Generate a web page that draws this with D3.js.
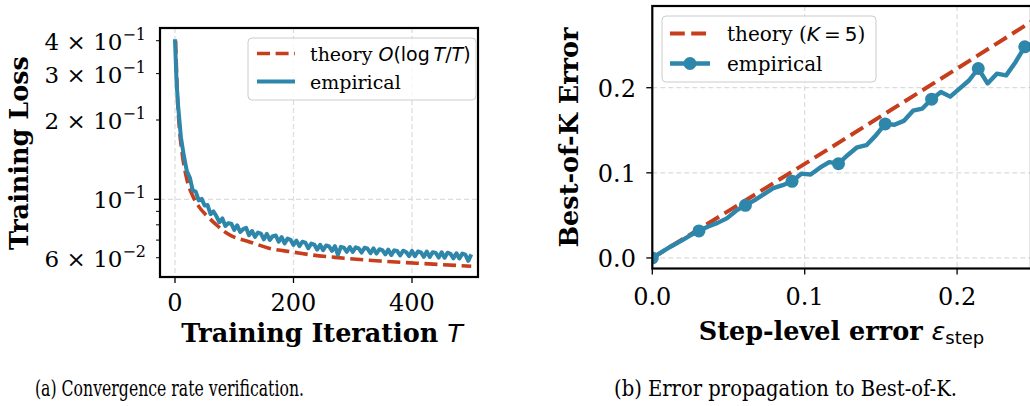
<!DOCTYPE html>
<html>
<head>
<meta charset="utf-8">
<style>
  html, body { margin: 0; padding: 0; background: #fff; }
  svg { display: block; }
  text { font-family: "DejaVu Serif", serif; fill: #000; }
  .math { font-family: "DejaVu Sans", sans-serif; }
</style>
</head>
<body>
<svg id="fig" width="1030" height="406"></svg>
<script src="https://cdn.jsdelivr.net/npm/d3@7/dist/d3.min.js"></script>
<script>
// (a) training loss
const lossT = [0, 1, 2, 3, 4, 5, 10, 15, 20, 25, 30, 35, 40, 45, 50, 55, 60, 65, 70, 75, 80, 85, 90, 95,
  100, 105, 110, 115, 120, 125, 130, 135, 140, 145, 150, 155, 160, 165, 170, 175, 180, 185, 190, 195,
  200, 205, 210, 215, 220, 225, 230, 235, 240, 245, 250, 255, 260, 265, 270, 275, 280, 285, 290, 295,
  300, 305, 310, 315, 320, 325, 330, 335, 340, 345, 350, 355, 360, 365, 370, 375, 380, 385, 390, 395,
  400, 405, 410, 415, 420, 425, 430, 435, 440, 445, 450, 455, 460, 465, 470, 475, 480, 485, 490, 495, 500];
const lossEmpirical = [0.405, 0.352, 0.305, 0.268, 0.252, 0.230, 0.172, 0.146, 0.128, 0.121, 0.108, 0.107, 0.099, 0.1003,
  0.0948, 0.0951, 0.0878, 0.0899, 0.0862, 0.0818, 0.0846, 0.0792, 0.0812, 0.0808,
  0.0765, 0.0796, 0.0752, 0.0770, 0.0779, 0.0731, 0.0758, 0.0720, 0.0748, 0.0741, 0.0705, 0.0739, 0.0701, 0.0725, 0.0729, 0.0690, 0.0718, 0.0680, 0.0709, 0.0702,
  0.0671, 0.0697, 0.0664, 0.0690, 0.0685, 0.0652, 0.0679, 0.0673, 0.0644, 0.0672, 0.0641, 0.0668, 0.0662, 0.0637, 0.0664, 0.0616, 0.0660, 0.0655, 0.0632, 0.0659,
  0.0631, 0.0657, 0.0651, 0.0628, 0.0655, 0.0649, 0.0624, 0.0651, 0.0622, 0.0646, 0.0641, 0.0618, 0.0644, 0.0614, 0.0640, 0.0636, 0.0612, 0.0638, 0.0631, 0.0609,
  0.0637, 0.0608, 0.0634, 0.0629, 0.0605, 0.0633, 0.0604, 0.0630, 0.0626, 0.0601, 0.0629, 0.0600, 0.0627, 0.0621, 0.0597, 0.0624, 0.0596, 0.0622, 0.0616, 0.0584, 0.0618];
const theoryT = [1, 3, 5, 8, 12, 20, 30, 40, 53, 70, 87, 100, 121, 160, 200, 233, 270, 346, 408, 500];
const theoryLoss = [0.400, 0.290, 0.225, 0.180, 0.150, 0.119, 0.103, 0.094, 0.087, 0.080, 0.0745, 0.0718, 0.0695,
  0.0651, 0.0630, 0.0614, 0.0602, 0.0583, 0.0572, 0.0557];
const lossXTicks = [0, 200, 400];
const lossYTicks = [
  { v: 0.4, m: "4 × 10", e: "−1" },
  { v: 0.3, m: "3 × 10", e: "−1" },
  { v: 0.2, m: "2 × 10", e: "−1" },
  { v: 0.1, m: "10", e: "−1" },
  { v: 0.06, m: "6 × 10", e: "−2" }
];
const lossMinorTicks = [0.07, 0.08, 0.09];

// (b) best-of-K error
const epsStep = [0, 0.0061, 0.0122, 0.0183, 0.0244, 0.0306, 0.0367, 0.0428, 0.0489, 0.0550, 0.0611,
  0.0672, 0.0733, 0.0794, 0.0856, 0.0917, 0.0978, 0.1039, 0.1100, 0.1161, 0.1222,
  0.1283, 0.1344, 0.1405, 0.1467, 0.1528, 0.1589, 0.1650, 0.1711, 0.1772, 0.1833,
  0.1894, 0.1955, 0.2016, 0.2078, 0.2139, 0.2200, 0.2261, 0.2322, 0.2383, 0.2444, 0.2505];
const bestKEmpirical = [0, 0.0068, 0.0135, 0.0195, 0.026, 0.0318, 0.037, 0.0412, 0.0465, 0.0555, 0.0618,
  0.068, 0.075, 0.082, 0.0855, 0.090, 0.099, 0.098, 0.106, 0.1125, 0.1108,
  0.121, 0.130, 0.1325, 0.144, 0.1575, 0.1565, 0.161, 0.173, 0.1755, 0.1865,
  0.195, 0.1895, 0.199, 0.2085, 0.2226, 0.205, 0.2165, 0.2145, 0.230, 0.248, 0.252];
const epsTheory = [0, 0.1, 0.2, 0.25];
const bestKTheory = [0, 0.1105, 0.2225, 0.279];
const errXTicks = [0, 0.1, 0.2];
const errYTicks = [0, 0.1, 0.2];

const RED = "#C73E1D", BLUE = "#2E86AB", GRID = "#dcdcdc";

const svg = d3.select("#fig");

function grid(g, x0, x1, y0, y1, xs, ys) {
  xs.forEach(x => g.append("line").attr("x1", x).attr("x2", x).attr("y1", y0).attr("y2", y1));
  ys.forEach(y => g.append("line").attr("x1", x0).attr("x2", x1).attr("y1", y).attr("y2", y));
  g.selectAll("line").attr("stroke", GRID).attr("stroke-width", 1.2).attr("stroke-dasharray", "5,3");
}

function frame(g, x0, x1, y0, y1) {
  g.append("rect").attr("x", x0).attr("y", y0).attr("width", x1 - x0).attr("height", y1 - y0)
    .attr("fill", "none").attr("stroke", "#000").attr("stroke-width", 2.2);
}

// ---------- panel (a) ----------
const ax = { l: 160, r: 478, t: 28, b: 277 };
const xA = d3.scaleLinear().domain([-25.3, 511.4]).range([ax.l, ax.r]);
const yA = d3.scaleLog().domain([0.0507, 0.447]).range([ax.b, ax.t]);

const gA = svg.append("g");
svg.append("clipPath").attr("id", "clipA").append("rect")
  .attr("x", ax.l).attr("y", ax.t).attr("width", ax.r - ax.l).attr("height", ax.b - ax.t);

grid(gA.append("g"), ax.l, ax.r, ax.t, ax.b, lossXTicks.map(xA), [yA(0.1)]);

const plotA = gA.append("g").attr("clip-path", "url(#clipA)");
plotA.append("path")
  .attr("d", d3.line().x(d => xA(d[0])).y(d => yA(d[1])).curve(d3.curveMonotoneX)(theoryT.map((t, i) => [t, theoryLoss[i]])))
  .attr("fill", "none").attr("stroke", RED).attr("stroke-width", 3.6).attr("stroke-dasharray", "13,5.6");
plotA.append("path")
  .attr("d", d3.line().x(d => xA(d[0])).y(d => yA(d[1]))(lossT.map((t, i) => [t, lossEmpirical[i]])))
  .attr("fill", "none").attr("stroke", BLUE).attr("stroke-width", 4).attr("stroke-linejoin", "round");

frame(gA, ax.l, ax.r, ax.t, ax.b);

// x ticks
lossXTicks.forEach(t => {
  gA.append("line").attr("x1", xA(t)).attr("x2", xA(t)).attr("y1", ax.b).attr("y2", ax.b + 6)
    .attr("stroke", "#000").attr("stroke-width", 1.3);
  gA.append("text").attr("x", xA(t)).attr("y", ax.b + 34).attr("text-anchor", "middle")
    .attr("font-size", 24).text(t);
});
// y ticks
lossYTicks.forEach(d => {
  const y = yA(d.v);
  const major = d.v === 0.1;
  gA.append("line").attr("x1", ax.l).attr("x2", ax.l - (major ? 6 : 4)).attr("y1", y).attr("y2", y)
    .attr("stroke", "#000").attr("stroke-width", major ? 1.3 : 1);
  const t = gA.append("text").attr("x", 146).attr("y", y + 9).attr("text-anchor", "end").attr("font-size", 23);
  t.append("tspan").text(d.m);
  t.append("tspan").attr("font-size", 16).attr("dy", -10).text(d.e);
});
lossMinorTicks.forEach(v => {
  gA.append("line").attr("x1", ax.l).attr("x2", ax.l - 4).attr("y1", yA(v)).attr("y2", yA(v))
    .attr("stroke", "#000").attr("stroke-width", 1);
});

// axis labels
const xlA = gA.append("text").attr("x", 322).attr("y", 342).attr("text-anchor", "middle")
  .attr("font-size", 25.5).attr("font-weight", "bold");
xlA.append("tspan").text("Training Iteration ");
xlA.append("tspan").attr("class", "math").attr("font-style", "italic").attr("font-weight", "normal").text("T");
gA.append("text").attr("transform", "translate(28,153) rotate(-90)").attr("text-anchor", "middle")
  .attr("font-size", 25.5).attr("font-weight", "bold").text("Training Loss");

// legend
const lgA = gA.append("g");
lgA.append("rect").attr("x", 248).attr("y", 38).attr("width", 228).attr("height", 62).attr("rx", 4)
  .attr("fill", "#fff").attr("fill-opacity", 0.8).attr("stroke", "#cccccc").attr("stroke-width", 1);
lgA.append("line").attr("x1", 257).attr("x2", 295).attr("y1", 53.5).attr("y2", 53.5)
  .attr("stroke", RED).attr("stroke-width", 3.6).attr("stroke-dasharray", "13,5.6");
lgA.append("line").attr("x1", 257).attr("x2", 295).attr("y1", 81.5).attr("y2", 81.5)
  .attr("stroke", BLUE).attr("stroke-width", 4);
const la1 = lgA.append("text").attr("x", 310).attr("y", 60.5).attr("font-size", 19);
la1.append("tspan").text("theory ");
la1.append("tspan").attr("class", "math").attr("font-style", "italic").text("O");
la1.append("tspan").attr("class", "math").text("(log\u2009");
la1.append("tspan").attr("class", "math").attr("font-style", "italic").text("T");
la1.append("tspan").attr("class", "math").text("/");
la1.append("tspan").attr("class", "math").attr("font-style", "italic").text("T");
la1.append("tspan").attr("class", "math").text(")");
lgA.append("text").attr("x", 310).attr("y", 88.5).attr("font-size", 19).text("empirical");

// ---------- panel (b) ----------
const bx = { l: 652.3, r: 1031, t: 6, b: 268.5 };
const xB = d3.scaleLinear().domain([0, 0.2485]).range([bx.l, bx.r]);
const yB = d3.scaleLinear().domain([-0.0124, 0.296]).range([bx.b, bx.t]);

const gB = svg.append("g");
svg.append("clipPath").attr("id", "clipB").append("rect")
  .attr("x", bx.l).attr("y", bx.t).attr("width", bx.r - bx.l).attr("height", bx.b - bx.t);

grid(gB.append("g"), bx.l, bx.r, bx.t, bx.b, errXTicks.slice(1).map(xB), errYTicks.map(yB));

const plotB = gB.append("g").attr("clip-path", "url(#clipB)");
plotB.append("path")
  .attr("d", d3.line().x(d => xB(d[0])).y(d => yB(d[1]))(epsTheory.map((e, i) => [e, bestKTheory[i]])))
  .attr("fill", "none").attr("stroke", RED).attr("stroke-width", 4).attr("stroke-dasharray", "14.8,6.4");
const empB = epsStep.map((e, i) => [e, bestKEmpirical[i]]);
plotB.append("path")
  .attr("d", d3.line().x(d => xB(d[0])).y(d => yB(d[1]))(empB))
  .attr("fill", "none").attr("stroke", BLUE).attr("stroke-width", 4.4).attr("stroke-linejoin", "round");
plotB.selectAll("circle").data(empB.filter((d, i) => i % 5 === 0)).join("circle")
  .attr("cx", d => xB(d[0])).attr("cy", d => yB(d[1])).attr("r", 6.5).attr("fill", BLUE);

frame(gB, bx.l, bx.r, bx.t, bx.b);

errXTicks.forEach(t => {
  gB.append("line").attr("x1", xB(t)).attr("x2", xB(t)).attr("y1", bx.b).attr("y2", bx.b + 6)
    .attr("stroke", "#000").attr("stroke-width", 1.3);
  gB.append("text").attr("x", xB(t)).attr("y", bx.b + 36.5).attr("text-anchor", "middle")
    .attr("font-size", 24).text(d3.format(".1f")(t));
});
errYTicks.forEach(t => {
  gB.append("line").attr("x1", bx.l).attr("x2", bx.l - 6).attr("y1", yB(t)).attr("y2", yB(t))
    .attr("stroke", "#000").attr("stroke-width", 1.3);
  gB.append("text").attr("x", 636).attr("y", yB(t) + 9).attr("text-anchor", "end")
    .attr("font-size", 24).text(d3.format(".1f")(t));
});

const xlB = gB.append("text").attr("x", 841.5).attr("y", 340).attr("text-anchor", "middle")
  .attr("font-size", 25.5).attr("font-weight", "bold");
xlB.append("tspan").text("Step-level error ");
xlB.append("tspan").attr("class", "math").attr("font-style", "italic").attr("font-weight", "normal").text("ε");
xlB.append("tspan").attr("class", "math").attr("font-weight", "normal").attr("font-size", 18).attr("dy", 4).text("step");
gB.append("text").attr("transform", "translate(578,137.5) rotate(-90)").attr("text-anchor", "middle")
  .attr("font-size", 25.5).attr("font-weight", "bold").text("Best-of-K Error");

const lgB = gB.append("g");
lgB.append("rect").attr("x", 662).attr("y", 16).attr("width", 214).attr("height", 66).attr("rx", 4)
  .attr("fill", "#fff").attr("fill-opacity", 0.8).attr("stroke", "#cccccc").attr("stroke-width", 1);
lgB.append("line").attr("x1", 670).attr("x2", 710).attr("y1", 33.5).attr("y2", 33.5)
  .attr("stroke", RED).attr("stroke-width", 4).attr("stroke-dasharray", "14.8,6.4");
lgB.append("line").attr("x1", 670).attr("x2", 710).attr("y1", 63.5).attr("y2", 63.5)
  .attr("stroke", BLUE).attr("stroke-width", 4.4);
lgB.append("circle").attr("cx", 690).attr("cy", 63.5).attr("r", 6.5).attr("fill", BLUE);
const lb1 = lgB.append("text").attr("x", 727).attr("y", 41).attr("font-size", 20);
lb1.append("tspan").text("theory (");
lb1.append("tspan").attr("class", "math").attr("font-style", "italic").text("K");
lb1.append("tspan").attr("class", "math").text("\u2009=\u20095");
lb1.append("tspan").text(")");
lgB.append("text").attr("x", 727).attr("y", 71).attr("font-size", 20).text("empirical");

// captions
svg.append("text").attr("x", 35).attr("y", 396).attr("font-family", "Liberation Serif").attr("font-size", 23)
  .attr("textLength", 269).attr("lengthAdjust", "spacingAndGlyphs").text("(a) Convergence rate verification.");
svg.append("text").attr("x", 614).attr("y", 396).attr("font-family", "Liberation Serif").attr("font-size", 23)
  .attr("textLength", 343).attr("lengthAdjust", "spacingAndGlyphs").text("(b) Error propagation to Best-of-K.");
</script>
</body>
</html>
